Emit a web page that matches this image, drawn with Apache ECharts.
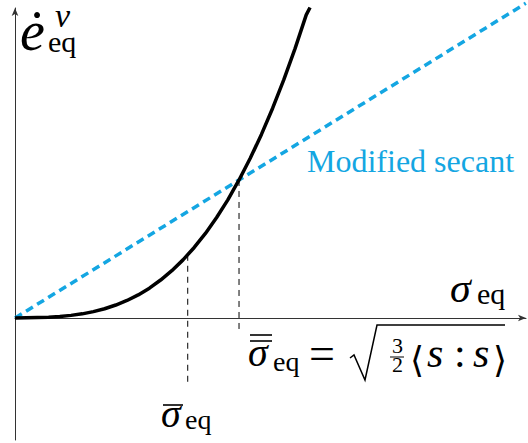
<!DOCTYPE html>
<html>
<head>
<meta charset="utf-8">
<title>secant</title>
<script src="https://cdn.jsdelivr.net/npm/echarts@6/dist/echarts.min.js"></script>
<style>
  html, body { margin: 0; padding: 0; background: #fff; }
  #main { width: 528px; height: 443px; }
</style>
</head>
<body>
<div id="main"></div>
<script type="text/javascript">
// viscous law (x = sigma / sigma_bar_bar, y = rate / rate at secant point)
var curveX = [0, 0.05, 0.1, 0.15, 0.2, 0.25, 0.3, 0.35, 0.4, 0.45, 0.5, 0.55, 0.6, 0.65, 0.7,
              0.75, 0.8, 0.85, 0.9, 0.95, 1.0, 1.05, 1.1, 1.15, 1.2, 1.25, 1.3, 1.317];
var curveY = [0, 0.001, 0.003, 0.006, 0.011, 0.019, 0.03, 0.046, 0.067, 0.094, 0.127, 0.167, 0.216, 0.275, 0.343,
              0.421, 0.511, 0.613, 0.728, 0.856, 1.0, 1.157, 1.33, 1.52, 1.727, 1.952, 2.196, 2.25];
// modified secant
var secantX = [0, 2.28];
var secantY = [0, 2.28];
// dashed drop lines
var dropAX = [0.771, 0.771];
var dropAY = [0.458, -0.486];
var dropBX = [1.0, 1.0];
var dropBY = [1.0, -0.087];

function pairs(xs, ys) {
  var out = [];
  for (var i = 0; i < xs.length; i++) out.push([xs[i], ys[i]]);
  return out;
}

var blue = '#14a6e2';
var serif = 'Liberation Serif';

// text with its baseline at "base" (default top/left anchoring)
function tx(text, x, base, size, italic, color, family) {
  var st = { text: text, fontSize: size, fontFamily: family || serif, fill: color || '#000' };
  if (italic) st.fontStyle = 'italic';
  return { type: 'text', x: x, y: base - 0.84 * size, style: st };
}
function bar(x1, y, x2, h) {
  return { type: 'rect',
    shape: { x: x1, y: y - (h || 1.6) / 2, width: x2 - x1, height: h || 1.6 },
    style: { fill: '#000' } };
}

// svg renderer: text goes through the browser's own font matching
var myChart = echarts.init(document.getElementById('main'), null, { renderer: 'svg' });

myChart.setOption({
  animation: false,
  grid: { left: 15, right: 2, top: 8, bottom: 3 },
  xAxis: {
    type: 'value', min: 0, max: 2.281,
    axisLine: { onZero: true, symbol: ['none', 'arrow'], symbolSize: [5, 8], lineStyle: { color: '#333', width: 1 } },
    axisTick: { show: false }, axisLabel: { show: false }, splitLine: { show: false }
  },
  yAxis: {
    type: 'value', min: -0.884, max: 2.246,
    axisLine: { show: true, onZero: false, symbol: ['none', 'arrow'], symbolSize: [5, 8], lineStyle: { color: '#333', width: 1 } },
    axisTick: { show: false }, axisLabel: { show: false }, splitLine: { show: false }
  },
  series: [
    {
      type: 'line', data: pairs(dropAX, dropAY), symbol: 'none', silent: true,
      lineStyle: { color: '#000', width: 1, type: [6, 5] }
    },
    {
      type: 'line', data: pairs(dropBX, dropBY), symbol: 'none', silent: true,
      lineStyle: { color: '#000', width: 1, type: [6, 5] }
    },
    {
      type: 'line', data: pairs(secantX, secantY), symbol: 'none', clip: false, silent: true,
      lineStyle: { color: blue, width: 3.5, type: [8, 5] }
    },
    {
      type: 'line', data: pairs(curveX, curveY), symbol: 'none', silent: true,
      lineStyle: { color: '#000', width: 3.5, join: 'round' }
    }
  ],
  graphic: [
    // y label
    tx('ė', 20, 50, 56, true),
    tx('v', 55, 27, 34, true),
    tx('eq', 48, 52, 30, false),
    // x label
    tx('σ', 450, 302, 42, true),
    tx('eq', 477, 304, 30, false),
    // legend
    tx('Modified secant', 307, 172, 32, false, blue),
    // sigma bar
    bar(163, 405, 183),
    tx('σ', 161, 427, 40, true),
    tx('eq', 185, 429, 28, false),
    // sigma double bar = sqrt(3/2 <s:s>)
    bar(250, 335, 272),
    bar(250, 341, 272),
    tx('σ', 248, 366, 40, true),
    tx('eq', 273, 371, 28, false),
    tx('=', 309, 369, 46, false),
    {
      type: 'polyline',
      shape: { points: [[350, 358], [354, 355], [365, 380], [377, 325], [505, 325]] },
      style: { stroke: '#000', lineWidth: 1.5, fill: null }
    },
    tx('3', 392, 353, 22, false),
    bar(390, 357, 404, 1),
    tx('2', 392, 372, 22, false),
    tx('⟨', 410, 372, 36, false, '#000', 'DejaVu Serif'),
    tx('s', 427, 367, 42, true),
    tx(':', 454, 367, 42, false),
    tx('s', 473, 367, 42, true),
    tx('⟩', 493, 372, 36, false, '#000', 'DejaVu Serif')
  ]
});
</script>
</body>
</html>
